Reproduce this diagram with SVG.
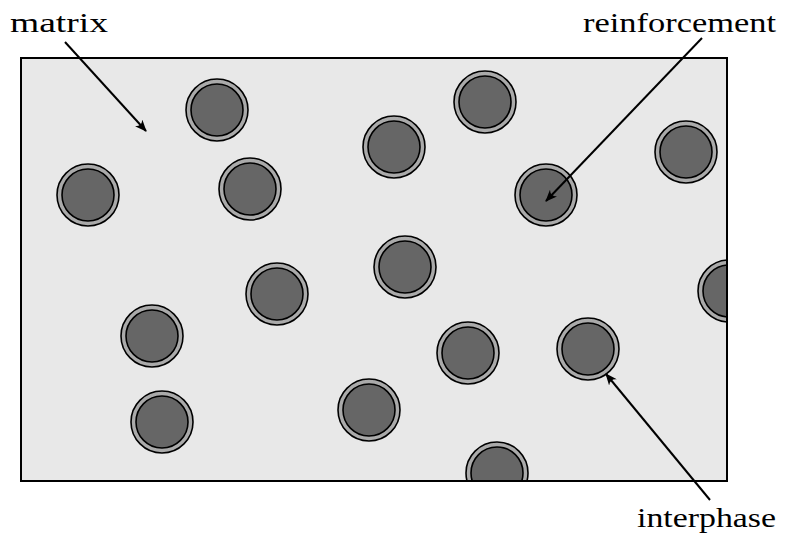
<svg xmlns="http://www.w3.org/2000/svg" width="786" height="534" viewBox="0 0 786 534">
<style>
.lbl{font-family:"Liberation Serif","DejaVu Serif",serif;font-size:28px;fill:#000}
.o{fill:#aaaaaa;stroke:#000;stroke-width:1.6}
.i{fill:#666666;stroke:#000;stroke-width:1.6}
.c{stroke:#000;stroke-width:2;fill:none}
</style>
<defs>
<clipPath id="box"><rect x="21" y="58" width="706" height="423"/></clipPath>
<marker id="ah" viewBox="0 0 12 10" refX="11" refY="5" markerWidth="12" markerHeight="10" markerUnits="userSpaceOnUse" orient="auto">
<path d="M0,0 Q5,5 0,10 L12,5 Z" fill="#000"/>
</marker>
<g id="p"><circle class="o" r="31"/><circle class="i" r="26"/></g>
</defs>
<g id="matrix-box"><rect x="21" y="58" width="706" height="423" fill="#e8e8e8"/></g>
<g id="particles" clip-path="url(#box)">
<use href="#p" x="217" y="110"/>
<use href="#p" x="88" y="195"/>
<use href="#p" x="250" y="189"/>
<use href="#p" x="485" y="102"/>
<use href="#p" x="394" y="147"/>
<use href="#p" x="546" y="195"/>
<use href="#p" x="686" y="152"/>
<use href="#p" x="405" y="267"/>
<use href="#p" x="277" y="294"/>
<use href="#p" x="152" y="336"/>
<use href="#p" x="729" y="291"/>
<use href="#p" x="468" y="353"/>
<use href="#p" x="588" y="349"/>
<use href="#p" x="369" y="410"/>
<use href="#p" x="162" y="422"/>
<use href="#p" x="497" y="473"/>
</g>
<g id="border"><rect x="21" y="58" width="706" height="423" fill="none" stroke="#000" stroke-width="2"/></g>
<g id="connectors">
<line class="c" x1="65" y1="42" x2="146" y2="131" marker-end="url(#ah)"/>
<line class="c" x1="702" y1="38" x2="546" y2="201" marker-end="url(#ah)"/>
<line class="c" x1="710" y1="500" x2="606" y2="374" marker-end="url(#ah)"/>
</g>
<g id="labels">
<text class="lbl" x="10" y="32" textLength="98" lengthAdjust="spacingAndGlyphs">matrix</text>
<text class="lbl" x="583" y="32" textLength="193" lengthAdjust="spacingAndGlyphs">reinforcement</text>
<text class="lbl" x="637" y="527" textLength="139" lengthAdjust="spacingAndGlyphs">interphase</text>
</g>
</svg>
